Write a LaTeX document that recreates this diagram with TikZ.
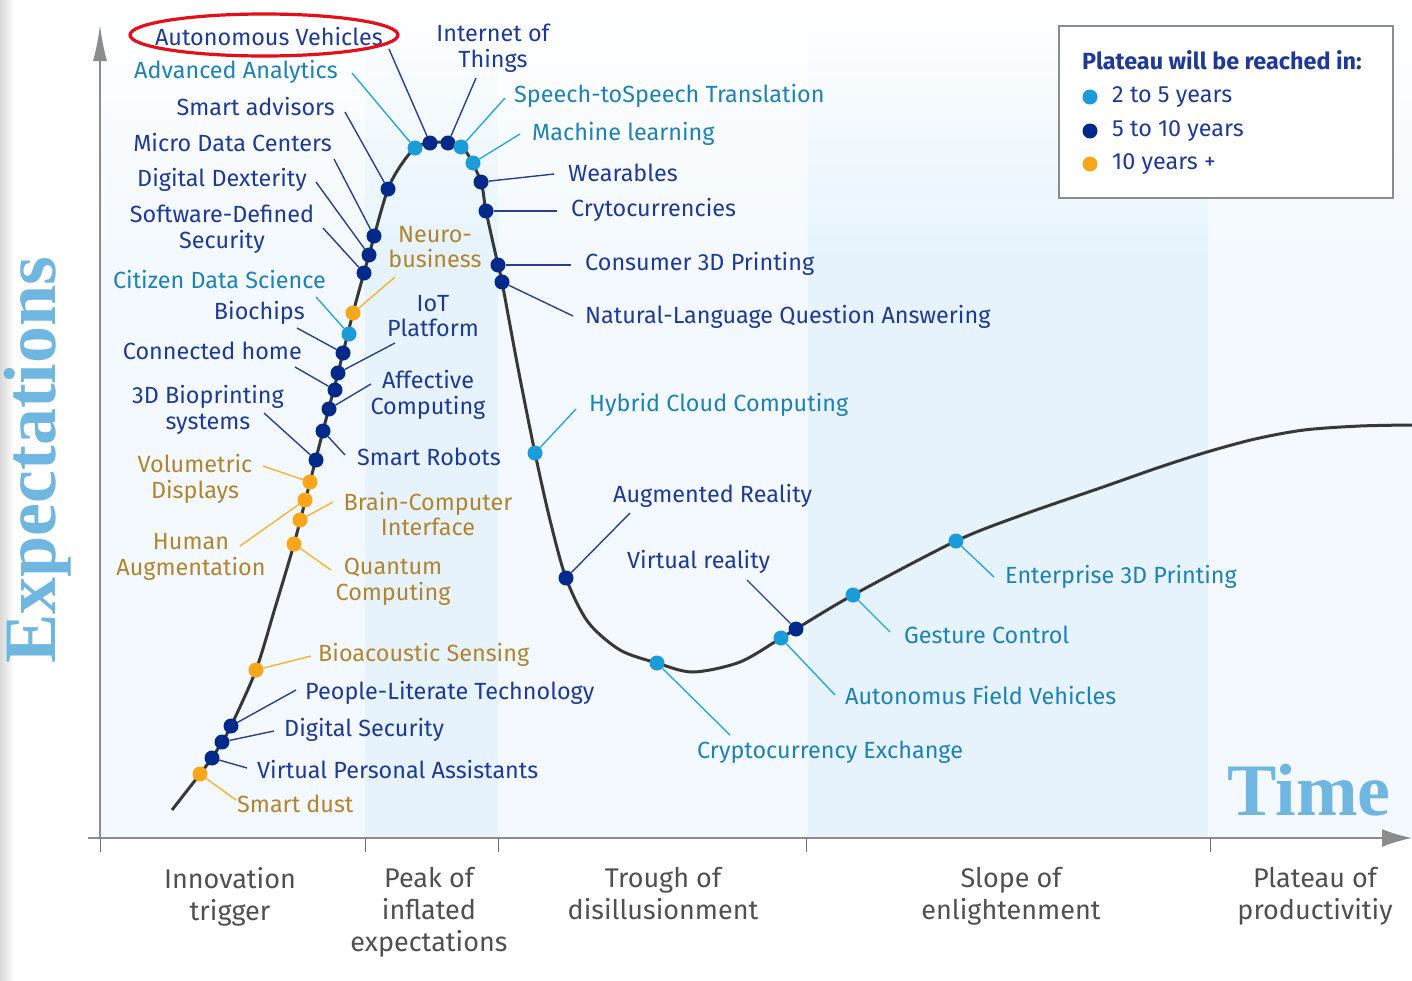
\documentclass[tikz,border=0pt]{standalone}
\usepackage{fontspec}
\setmainfont{Fira Sans}
\newfontfamily\serifx{Liberation Serif}
\usetikzlibrary{arrows.meta}
\definecolor{cL}{HTML}{1B9BD7}
\definecolor{cD}{HTML}{00298A}
\definecolor{cO}{HTML}{F9A61A}
\definecolor{tD}{HTML}{1E3A94}
\definecolor{tL}{HTML}{1F82B4}
\definecolor{tO}{HTML}{B08431}
\definecolor{lD}{HTML}{2B3F8E}
\definecolor{lL}{HTML}{2AA6DD}
\definecolor{lO}{HTML}{F7B333}
\definecolor{bandA}{HTML}{F3F9FE}
\definecolor{bandB}{HTML}{E6F3FC}
\definecolor{axisg}{HTML}{8C8C8C}
\definecolor{phase}{HTML}{505050}
\definecolor{bigblue}{HTML}{6FB6E1}
\definecolor{redring}{HTML}{E3101A}
\newcommand\labfont{\fontsize{23.4}{25.5}\selectfont}
\newcommand\hcdot[4]{%
  \node[dot#2] (#1) at (#3) {};
  \coordinate (#1e) at (#4);
  \draw[ln#2] (#1) -- (#1e);
}
\tikzset{
  dotL/.style={circle, fill=cL, inner sep=0, minimum size=15},
  dotD/.style={circle, fill=cD, inner sep=0, minimum size=15},
  dotO/.style={circle, fill=cO, inner sep=0, minimum size=15},
  lnL/.style={draw=lL, line width=1.4},
  lnD/.style={draw=lD, line width=1.4},
  lnO/.style={draw=lO, line width=1.4},
  txL/.style={text=tL, font=\labfont, inner sep=0, align=center},
  txD/.style={text=tD, font=\labfont, inner sep=0, align=center},
  txO/.style={text=tO, font=\labfont, inner sep=0, align=center},
  phaselab/.style={text=phase, font=\fontsize{27}{32}\selectfont, inner sep=0, align=center, anchor=north},
  curve/.style={draw=black!78, line width=3},
  axisline/.style={draw=axisg, line width=2},
  tick/.style={draw=black!55, line width=1},
}
\begin{document}
\begin{tikzpicture}[x=1pt,y=-1pt]
\useasboundingbox (0,0) rectangle (1412,980);
% background
\fill[white] (0,0) rectangle (1412,980);
\shade[left color=black!15, right color=white] (0,0) rectangle (14,980);
\foreach \xa/\xb/\cc in {100/365/bandA, 365/498/bandB, 498/808/bandA, 808/1208/bandB, 1208/1412/bandA}{
  \shade[top color=white, bottom color=\cc] (\xa,0) rectangle (\xb,260);
  \fill[\cc] (\xa,259) rectangle (\xb,838);
}
% axes
\draw[axisline, -{Latex[length=36pt,width=14pt]}] (100,838) -- (100,25);
\draw[axisline, -{Latex[length=30pt,width=18pt]}] (88,838) -- (1412,838);
\foreach \tx in {100,365,498,806,1210}{\draw[tick] (\tx,838) -- (\tx,852);}
% axis titles
\node[text=bigblue, font=\serifx\bfseries\fontsize{74}{80}\selectfont, rotate=90, inner sep=0] (ylab) at (38,460) {Expectations};
\node[text=bigblue, font=\serifx\bfseries\fontsize{74}{80}\selectfont, inner sep=0] (xlab) at (1309,790) {Time};
% phases
\node[phaselab] (p1) at (230,867) {Innovation\\trigger};
\node[phaselab] (p2) at (429,867) {Peak of\\inflated\\expectations};
\node[phaselab] (p3) at (663,867) {Trough of\\disillusionment};
\node[phaselab] (p4) at (1011,867) {Slope of\\enlightenment};
\node[phaselab] (p5) at (1315,867) {Plateau of\\productivitiy};
% hype curve
\draw[curve] plot[smooth, tension=0.5] coordinates {
 (172,810) (200,774) (212,758) (222,742) (231,726) (256,670) (275,608) (294,544)
 (310,482) (323,431) (338,373) (353,313) (369,255) (388,189) (406,158) (420,145)
 (439,142) (456,144) (467,153) (481,182) (486,211) (498,265) (502,282) (518,368)
 (535,453) (550,520) (566,578) (588,622) (620,650) (657,663) (693,672) (740,662)
 (781,638) (796,629) (853,595) (956,541) (1022,515) (1103,487) (1160,467) (1207,452)
 (1255,439) (1304,430) (1360,426) (1412,425)};
% dots and leaders
\hcdot{d1}{O}{200,774}{236,800}
\hcdot{d2}{D}{212,758}{247,768}
\hcdot{d3}{D}{222,742}{274,731}
\hcdot{d4}{D}{231,726}{296,690}
\hcdot{d5}{O}{256,670}{311,656}
\hcdot{d6}{O}{294,544}{331,570}
\hcdot{d7}{O}{300,520}{333,502}
\hcdot{d8}{O}{305,500}{240,546}
\hcdot{d9}{O}{310,482}{263,466}
\hcdot{d10}{D}{316,460}{264,413}
\hcdot{d11}{D}{323,431}{345,455}
\hcdot{d12}{D}{329,409}{371,384}
\hcdot{d13}{D}{335,390}{295,367}
\hcdot{d14}{D}{338,373}{395,343}
\hcdot{d15}{D}{343,353}{297,328}
\hcdot{d16}{L}{349,334}{316,297}
\hcdot{d17}{O}{353,313}{395,277}
\hcdot{d18}{D}{364,273}{323,228}
\hcdot{d19}{D}{369,255}{316,182}
\hcdot{d20}{D}{374,236}{334,159}
\hcdot{d21}{D}{388,189}{345,112}
\hcdot{d22}{L}{415,148}{352,73}
\hcdot{d23}{D}{430,143}{389,49}
\hcdot{d24}{D}{448,143}{476,78}
\hcdot{d25}{L}{461,147}{505,98}
\hcdot{d26}{L}{473,163}{520,134}
\hcdot{d27}{D}{481,182}{554,174}
\hcdot{d28}{D}{486,211}{557,211}
\hcdot{d29}{D}{498,265}{571,265}
\hcdot{d30}{D}{502,282}{573,316}
\hcdot{d31}{L}{535,453}{576,409}
\hcdot{d32}{D}{566,578}{630,513}
\hcdot{d33}{L}{657,663}{730,735}
\hcdot{d34}{L}{781,638}{835,695}
\hcdot{d35}{D}{796,629}{747,580}
\hcdot{d36}{L}{853,595}{890,632}
\hcdot{d37}{L}{956,541}{994,577}
% labels
\node[txO, anchor=west] (t1) at (237,804) {Smart dust};
\node[txD, anchor=west] (t2) at (257,770) {Virtual Personal Assistants};
\node[txD, anchor=west] (t3) at (284,730) {Digital Security};
\node[txD, anchor=west] (t4) at (305,693) {People-Literate Technology};
\node[txO, anchor=west] (t5) at (318,655) {Bioacoustic Sensing};
\node[txO] (t6) at (393,582) {Quantum\\Computing};
\node[txO] (t7) at (428,514) {Brain-Computer\\Interface};
\node[txO] (t8) at (191,557) {Human\\Augmentation};
\node[txO] (t9) at (195,479) {Volumetric\\Displays};
\node[txD] (t10) at (208,410) {3D Bioprinting\\systems};
\node[txD, anchor=west] (t11) at (357,457) {Smart Robots};
\node[txD] (t12) at (428,395) {Affective\\Computing};
\node[txD, anchor=east] (t13) at (302,351) {Connected home};
\node[txD] (t14) at (433,316) {IoT\\Platform};
\node[txD, anchor=east] (t15) at (305,313) {Biochips};
\node[txL, anchor=east] (t16) at (326,280) {Citizen Data Science};
\node[txO] (t17) at (435,247) {Neuro-\\business};
\node[txD] (t18) at (222,229) {Software-Defined\\Security};
\node[txD, anchor=east] (t19) at (307,180) {Digital Dexterity};
\node[txD, anchor=east] (t20) at (332,143) {Micro Data Centers};
\node[txD, anchor=east] (t21) at (335,107) {Smart advisors};
\node[txL, anchor=east] (t22) at (338,72) {Advanced Analytics};
\node[txD, anchor=east] (t23) at (383,37) {Autonomous Vehicles};
\node[txD] (t24) at (493,48) {Internet of\\Things};
\node[txL, anchor=west] (t25) at (514,96) {Speech-toSpeech Translation};
\node[txL, anchor=west] (t26) at (532,134) {Machine learning};
\node[txD, anchor=west] (t27) at (568,173) {Wearables};
\node[txD, anchor=west] (t28) at (571,210) {Crytocurrencies};
\node[txD, anchor=west] (t29) at (585,264) {Consumer 3D Printing};
\node[txD, anchor=west] (t30) at (585,317) {Natural-Language Question Answering};
\node[txL, anchor=west] (t31) at (589,405) {Hybrid Cloud Computing};
\node[txD, anchor=west] (t32) at (613,496) {Augmented Reality};
\node[txL, anchor=west] (t33) at (697,752) {Cryptocurrency Exchange};
\node[txL, anchor=west] (t34) at (845,696) {Autonomus Field Vehicles};
\node[txD, anchor=west] (t35) at (627,562) {Virtual reality};
\node[txL, anchor=west] (t36) at (904,635) {Gesture Control};
\node[txL, anchor=west] (t37) at (1005,577) {Enterprise 3D Printing};
% red highlight
\draw[redring, line width=3.2] (264,35) ellipse [x radius=134, y radius=21];
% legend
\node[draw=black!45, line width=1.5, fill=white, minimum width=334, minimum height=172, inner sep=0, anchor=north west] (legend) at (1058,25) {};
\node[text=tD, font=\bfseries\labfont, anchor=west, inner sep=0] (lt) at (1082,60) {Plateau will be reached in:};
\node[dotL, minimum size=15] (ld1) at (1090,97) {};
\node[dotD, minimum size=15] (ld2) at (1090,131) {};
\node[dotO, minimum size=15] (ld3) at (1090,164) {};
\node[text=tD, font=\labfont, anchor=west, inner sep=0] (lx1) at (1112,97) {2 to 5 years};
\node[text=tD, font=\labfont, anchor=west, inner sep=0] (lx2) at (1112,131) {5 to 10 years};
\node[text=tD, font=\labfont, anchor=west, inner sep=0] (lx3) at (1112,164) {10 years +};
\end{tikzpicture}
\end{document}
